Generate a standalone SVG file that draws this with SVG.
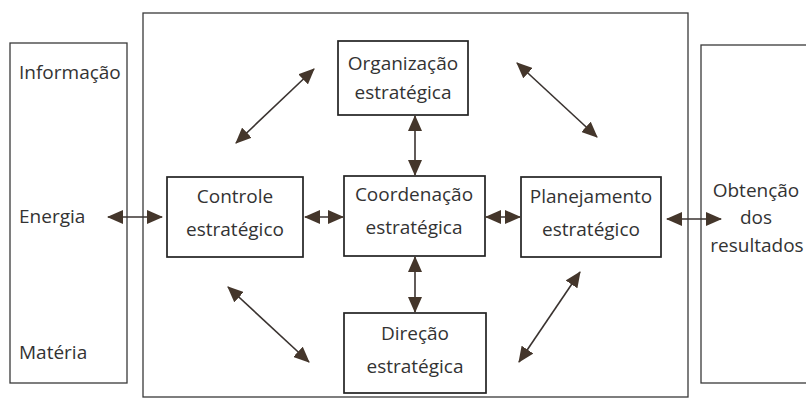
<svg xmlns="http://www.w3.org/2000/svg" width="806" height="412" viewBox="0 0 806 412">
<style>
.box{fill:#fff;stroke:#222;stroke-width:1.7}
.frame{fill:none;stroke:#3a3a3a;stroke-width:1.3}
.t{font-family:"Open Sans","Noto Sans",sans-serif;font-size:19px;fill:#333;text-anchor:middle}
.tl{font-family:"Open Sans","Noto Sans",sans-serif;font-size:19px;fill:#333}
.c{stroke:#3a3330;stroke-width:1.6;fill:none;marker-start:url(#ah);marker-end:url(#ah)}
</style>
<defs>
<marker id="ah" viewBox="0 0 16 14" refX="15" refY="7" markerWidth="16" markerHeight="14" markerUnits="userSpaceOnUse" orient="auto-start-reverse">
<path d="M0,0 L16,7 L0,14 z" fill="#44362b"/>
</marker>
</defs>
<rect width="806" height="412" fill="#fff"/>
<g id="entrada">
<rect class="frame" x="10" y="43" width="117" height="340"/>
<text class="tl" x="19" y="79">Informação</text>
<text class="tl" x="19" y="223">Energia</text>
<text class="tl" x="19" y="359">Matéria</text>
</g>
<g id="sistema">
<rect class="frame" x="143" y="13" width="545" height="384"/>
</g>
<g id="saida">
<rect class="frame" x="701" y="45" width="110" height="338"/>
<text class="t" x="756" y="197">Obtenção</text>
<text class="t" x="756" y="224">dos</text>
<text class="t" x="757" y="252">resultados</text>
</g>
<g id="organizacao">
<rect class="box" x="338" y="41" width="130" height="74"/>
<text class="t" x="403" y="70">Organização</text>
<text class="t" x="403" y="99">estratégica</text>
</g>
<g id="controle">
<rect class="box" x="167" y="177" width="136" height="80"/>
<text class="t" x="235" y="203">Controle</text>
<text class="t" x="235" y="236">estratégico</text>
</g>
<g id="coordenacao">
<rect class="box" x="344" y="176" width="141" height="80"/>
<text class="t" x="414" y="201">Coordenação</text>
<text class="t" x="414" y="234">estratégica</text>
</g>
<g id="planejamento">
<rect class="box" x="521" y="177" width="140" height="80"/>
<text class="t" x="591" y="203">Planejamento</text>
<text class="t" x="591" y="236">estratégico</text>
</g>
<g id="direcao">
<rect class="box" x="344" y="313" width="142" height="80"/>
<text class="t" x="415" y="340">Direção</text>
<text class="t" x="415" y="373">estratégica</text>
</g>
<g id="connectors">
<line class="c" x1="108" y1="217" x2="162" y2="217"/>
<line class="c" x1="305" y1="217" x2="343" y2="217"/>
<line class="c" x1="486" y1="217" x2="520" y2="217"/>
<line class="c" x1="667" y1="219" x2="721" y2="219"/>
<line class="c" x1="415" y1="116" x2="415" y2="175"/>
<line class="c" x1="415" y1="257" x2="415" y2="312"/>
<line class="c" x1="236" y1="143" x2="314" y2="69"/>
<line class="c" x1="517" y1="63" x2="597" y2="137"/>
<line class="c" x1="228" y1="287" x2="309" y2="362"/>
<line class="c" x1="580" y1="272" x2="519" y2="362"/>
</g>
</svg>
